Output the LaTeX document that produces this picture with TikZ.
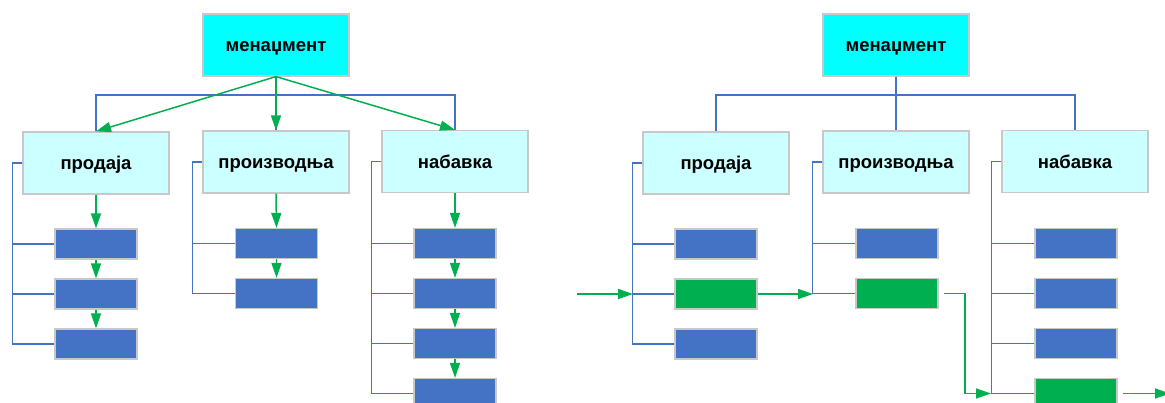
\documentclass[tikz,border=0pt]{standalone}
\usepackage{fontspec}
\setmainfont{Liberation Sans}
\usetikzlibrary{arrows.meta}
\definecolor{cyanbox}{HTML}{00FFFF}
\definecolor{lightcyan}{HTML}{CCFFFF}
\definecolor{boxblue}{HTML}{4472C4}
\definecolor{boxgreen}{HTML}{00B050}
\definecolor{bordergray}{HTML}{C8C8C8}
\begin{document}
\begin{tikzpicture}[x=1pt,y=-1pt,
 topbox/.style={draw=bordergray, line width=1.2pt, fill=cyanbox, minimum width=146pt, minimum height=62pt, font=\fontsize{18.5}{20}\selectfont\bfseries, inner sep=0pt, text height=16pt, text depth=2pt},
 deptbox/.style={topbox, fill=lightcyan},
 subbox/.style={draw=bordergray, line width=1.2pt, fill=boxblue, minimum width=82pt, minimum height=30pt, inner sep=0pt},
 greenbox/.style={subbox, fill=boxgreen},
 bline/.style={draw=boxblue, line width=1.6pt},
 garrow/.style={draw=boxgreen, line width=1.5pt, -{Triangle[length=15pt,width=10pt]}},
]
\useasboundingbox (0,0) rectangle (1165,403);
\clip (0,0) rectangle (1165,403);
% ---------- left diagram ----------
\node[topbox] (m) at (276,45) {менаџмент};
\node[deptbox] (p1) at (96,163) {продаја};
\node[deptbox] (p2) at (276,162) {производња};
\node[deptbox] (p3) at (455,161.5) {набавка};
\node[subbox] (a1) at (96,244) {};
\node[subbox] (a2) at (96,294) {};
\node[subbox] (a3) at (96,344) {};
\node[subbox] (b1) at (276.5,243.5) {};
\node[subbox] (b2) at (276.5,293.5) {};
\node[subbox] (c1) at (455,243.5) {};
\node[subbox] (c2) at (455,293.5) {};
\node[subbox] (c3) at (455,343.5) {};
\node[subbox] (c4) at (455,393.5) {};
\coordinate (hl) at (276,95);
\draw[bline] (p1.north) |- (hl) -| (p3.north);
\draw[bline] (m.south) -- (p2.north);
\foreach \n in {a1,a2,a3} \draw[bline] (p1.west) -- ++(-10,0) |- (\n.west);
\foreach \n in {b1,b2} \draw[bline] (p2.west) -- ++(-10,0) |- (\n.west);
\foreach \n in {c1,c2,c3,c4} \draw[bline] (p3.west) -- ++(-10,0) |- (\n.west);
\draw[garrow] (m.south) -- (p1.north);
\draw[garrow] (m.south) -- (p2.north);
\draw[garrow] (m.south) -- (p3.north);
\draw[garrow] (p1.south) -- (a1.north);
\draw[garrow] (a1.south) -- (a2.north);
\draw[garrow] (a2.south) -- (a3.north);
\draw[garrow] (p2.south) -- (b1.north);
\draw[garrow] (b1.south) -- (b2.north);
\draw[garrow] (p3.south) -- (c1.north);
\draw[garrow] (c1.south) -- (c2.north);
\draw[garrow] (c2.south) -- (c3.north);
\draw[garrow] (c3.south) -- (c4.north);
% ---------- right diagram ----------
\node[topbox] (rm) at (896,45) {менаџмент};
\node[deptbox] (q1) at (716,163) {продаја};
\node[deptbox] (q2) at (896,162) {производња};
\node[deptbox] (q3) at (1075,161.5) {набавка};
\node[subbox] (d1) at (716,244) {};
\node[greenbox] (d2) at (716,294) {};
\node[subbox] (d3) at (716,344) {};
\node[subbox] (e1) at (897,243.5) {};
\node[greenbox] (e2) at (897,293.5) {};
\node[subbox] (f1) at (1076,243.5) {};
\node[subbox] (f2) at (1076,293.5) {};
\node[subbox] (f3) at (1076,343.5) {};
\node[greenbox] (f4) at (1076,393.5) {};
\coordinate (hr) at (896,95);
\draw[bline] (q1.north) |- (hr) -| (q3.north);
\draw[bline] (rm.south) -- (q2.north);
\foreach \n in {d1,d2,d3} \draw[bline] (q1.west) -- ++(-10,0) |- (\n.west);
\foreach \n in {e1,e2} \draw[bline] (q2.west) -- ++(-10,0) |- (\n.west);
\foreach \n in {f1,f2,f3,f4} \draw[bline] (q3.west) -- ++(-10,0) |- (\n.west);
\coordinate (in) at (577,294);
\coordinate (j1) at (633,294);
\coordinate (j2) at (813,294);
\coordinate (g1) at (944,293.5);
\coordinate (j3) at (991,393.5);
\coordinate (g2) at (1123,393.5);
\coordinate (out) at (1170,393.5);
\draw[garrow] (in) -- (j1);
\draw[garrow] (d2.east) -- (j2);
\draw[garrow] (g1) -- ++(21,0) |- (j3);
\draw[garrow] (g2) -- (out);
\end{tikzpicture}
\end{document}
